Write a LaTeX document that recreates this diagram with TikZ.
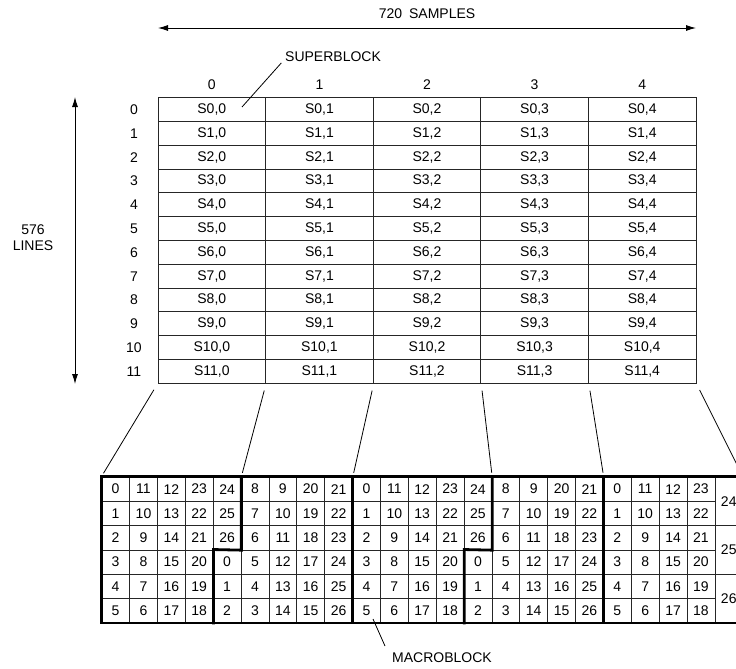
\documentclass[tikz,border=0pt]{standalone}
\usepackage{fontspec}
\setmainfont{Liberation Sans}
\usetikzlibrary{arrows.meta}
\begin{document}
\begin{tikzpicture}[x=1pt,y=-1pt,
  txt/.style={font=\fontsize{14}{16}\selectfont, inner sep=0pt},
  sbcell/.style={draw=black!85, line width=0.9pt, minimum width=107.6pt, minimum height=23.8pt, inner sep=0pt, font=\fontsize{14}{16}\selectfont},
  mbcell/.style={draw=black!85, line width=0.6pt, minimum width=27.87pt, minimum height=24.28pt, inner sep=0pt, font=\fontsize{14}{16}\selectfont},
  thk/.style={line width=2.8pt, line cap=rect, line join=miter},
  conn/.style={line width=0.8pt, shorten <=7pt, shorten >=4pt},
  dimarrow/.style={line width=0.9pt, {Latex[length=10pt,width=6pt]}-{Latex[length=10pt,width=6pt]}}]
\useasboundingbox (0,0) rectangle (736,669);
\clip (0,0) rectangle (736,669);
% ---- superblock grid ----
\foreach \r in {0,...,11}{
  \node[txt] (rl-\r) at (134, {97.7+23.8*(\r+0.5)}) {\r};
  \foreach \c in {0,...,4}{
    \node[sbcell] (s-\r-\c) at ({158+107.6*(\c+0.5)}, {97.7+23.8*(\r+0.5)}) {S\r,\c};
  }
}
\foreach \c in {0,...,4}{
  \node[txt] (cl-\c) at ({158+107.6*(\c+0.5)}, 85) {\c};
}
% ---- dimensions ----
\node[txt] (samples) at (427, 14) {720\enspace SAMPLES};
\coordinate (ha) at (158,28);
\coordinate (hb) at (696,28);
\draw[dimarrow] (ha) -- (hb);
\coordinate (va) at (75,97);
\coordinate (vb) at (75,384);
\draw[dimarrow] (va) -- (vb);
\node[txt, align=center] (lines) at (33,238) {576\\LINES};
% ---- superblock label ----
\node[txt, anchor=west] (sbl) at (285,57) {SUPERBLOCK};
\coordinate (sbtip) at (242,107);
\draw[line width=0.8pt, shorten <=1pt] ([xshift=-3pt]sbl.south west) -- (sbtip);
% ---- macroblock grid ----
\foreach \row [count=\r from 0] in {
 {0,11,12,23,24,8,9,20,21,0,11,12,23,24,8,9,20,21,0,11,12,23},
 {1,10,13,22,25,7,10,19,22,1,10,13,22,25,7,10,19,22,1,10,13,22},
 {2,9,14,21,26,6,11,18,23,2,9,14,21,26,6,11,18,23,2,9,14,21},
 {3,8,15,20,0,5,12,17,24,3,8,15,20,0,5,12,17,24,3,8,15,20},
 {4,7,16,19,1,4,13,16,25,4,7,16,19,1,4,13,16,25,4,7,16,19},
 {5,6,17,18,2,3,14,15,26,5,6,17,18,2,3,14,15,26,5,6,17,18}}{
  \foreach \v [count=\c from 0] in \row {
    \node[mbcell] (m-\r-\c) at ({101.7+27.87*(\c+0.5)}, {477+24.28*(\r+0.5)}) {\v};
  }
}
\node[mbcell, minimum height=48.56pt] (m-0-22) at ({101.7+27.87*22.5}, {477+24.28}) {24};
\node[mbcell, minimum height=48.56pt] (m-2-22) at ({101.7+27.87*22.5}, {477+24.28*3}) {25};
\node[mbcell, minimum height=48.56pt] (m-4-22) at ({101.7+27.87*22.5}, {477+24.28*5}) {26};
% thick superblock outlines
\draw[thk] (m-0-0.north west) rectangle (m-4-22.south east);
\draw[thk] (m-0-8.north east) -- (m-5-8.south east);
\draw[thk] (m-0-17.north east) -- (m-5-17.south east);
\draw[thk] (m-0-4.north east) -- (m-2-4.south east) -- (m-3-3.north east) -- (m-5-3.south east);
\draw[thk] (m-0-13.north east) -- (m-2-13.south east) -- (m-3-12.north east) -- (m-5-12.south east);
% ---- connectors ----
\draw[conn] (s-11-0.south west) -- (m-0-0.north west);
\draw[conn] (s-11-0.south east) -- (m-0-4.north east);
\draw[conn] (s-11-1.south east) -- (m-0-8.north east);
\draw[conn] (s-11-2.south east) -- (m-0-13.north east);
\draw[conn] (s-11-3.south east) -- (m-0-17.north east);
\draw[conn] (s-11-4.south east) -- (m-0-22.north east);
% ---- macroblock label ----
\node[txt] (mbl) at (442,658) {MACROBLOCK};
\coordinate (mbtip) at (373,619);
\coordinate (mbfoot) at (385,646);
\draw[line width=0.8pt] (mbfoot) -- (mbtip);
\end{tikzpicture}
\end{document}
